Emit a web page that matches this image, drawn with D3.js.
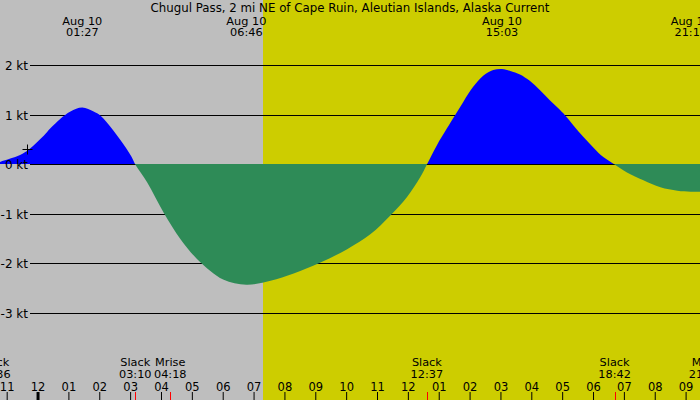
<!DOCTYPE html>
<html>
<head>
<meta charset="utf-8">
<script src="https://cdn.jsdelivr.net/npm/d3@7/dist/d3.min.js"></script>
<style>
body { margin: 0; }
svg { display: block; font-family: "DejaVu Sans", sans-serif; }
</style>
</head>
<body>
<script>
var width = 700;
var height = 400;

var title = "Chugul Pass, 2 mi NE of Cape Ruin, Aleutian Islands, Alaska Current";
var viewRange = ["2024-08-09T22:47", "2024-08-10T21:28"];
var dayRange = ["2024-08-10T07:18", "2024-08-10T21:28"];

// current speed (kt), + flood / - ebb
var curveTimes = [
    "2024-08-09T22:36", "2024-08-09T22:47", "2024-08-09T23:07", "2024-08-09T23:26", "2024-08-09T23:45",
    "2024-08-10T00:12", "2024-08-10T00:25", "2024-08-10T00:44", "2024-08-10T01:04", "2024-08-10T01:27",
    "2024-08-10T01:49", "2024-08-10T02:02", "2024-08-10T02:14", "2024-08-10T02:27", "2024-08-10T02:40",
    "2024-08-10T02:53", "2024-08-10T03:03", "2024-08-10T03:10",
    "2024-08-10T03:33", "2024-08-10T04:05", "2024-08-10T04:38", "2024-08-10T05:10", "2024-08-10T05:36",
    "2024-08-10T06:02", "2024-08-10T06:46", "2024-08-10T07:33", "2024-08-10T08:18", "2024-08-10T09:10",
    "2024-08-10T10:02", "2024-08-10T10:47", "2024-08-10T11:26", "2024-08-10T11:58", "2024-08-10T12:24",
    "2024-08-10T12:37", "2024-08-10T12:56", "2024-08-10T13:16", "2024-08-10T13:32", "2024-08-10T13:48",
    "2024-08-10T14:07", "2024-08-10T14:27", "2024-08-10T14:46", "2024-08-10T15:03", "2024-08-10T15:19",
    "2024-08-10T15:38", "2024-08-10T15:57", "2024-08-10T16:17", "2024-08-10T16:36", "2024-08-10T16:53",
    "2024-08-10T17:06", "2024-08-10T17:22", "2024-08-10T17:41", "2024-08-10T18:01", "2024-08-10T18:20",
    "2024-08-10T18:42", "2024-08-10T19:06", "2024-08-10T19:38", "2024-08-10T20:11", "2024-08-10T20:44",
    "2024-08-10T21:10", "2024-08-10T21:40"
];
var curveSpeeds = [
    0, 0.05, 0.12, 0.19, 0.32,
    0.58, 0.73, 0.92, 1.07, 1.15,
    1.07, 0.99, 0.86, 0.69, 0.51,
    0.32, 0.15, 0,
    -0.36, -0.97, -1.51, -1.91, -2.15,
    -2.33, -2.43, -2.35, -2.20, -1.98,
    -1.71, -1.41, -1.03, -0.66, -0.26,
    0, 0.38, 0.73, 1.0, 1.27,
    1.57, 1.80, 1.91, 1.93, 1.89,
    1.82, 1.69, 1.50, 1.30, 1.13,
    0.99, 0.79, 0.56, 0.34, 0.15,
    0, -0.16, -0.32, -0.46, -0.53,
    -0.55, -0.55
];

var peakTimes = ["2024-08-10T01:27", "2024-08-10T06:46", "2024-08-10T15:03", "2024-08-10T21:10"];
var eventNames = ["Slack", "Slack", "Mrise", "Slack", "Slack", "Mset"];
var eventTimes = ["2024-08-09T22:36", "2024-08-10T03:10", "2024-08-10T04:18",
                  "2024-08-10T12:37", "2024-08-10T18:42", "2024-08-10T21:38"];
var speedTicks = [2, 1, 0, -1, -2, -3];

var parse = d3.timeParse("%Y-%m-%dT%H:%M");
var fmtDay = d3.timeFormat("%b %d");
var fmtTime = d3.timeFormat("%H:%M");

var data = curveTimes.map(function (t, i) { return { t: parse(t), v: curveSpeeds[i] }; });

var xScale = d3.scaleTime()
    .domain(viewRange.map(parse))
    .range([0, width]);
var yScale = d3.scaleLinear()
    .domain([2, -3])
    .range([65.5, 313]);
var base = Math.floor(yScale(0));

var svg = d3.select("body").append("svg")
    .attr("width", width)
    .attr("height", height);

// night / day background
svg.append("rect")
    .attr("width", width).attr("height", height)
    .attr("fill", "#bebebe");
svg.append("rect")
    .attr("x", Math.round(xScale(parse(dayRange[0]))))
    .attr("width", Math.round(xScale(parse(dayRange[1])) - xScale(parse(dayRange[0]))) + 1)
    .attr("height", height)
    .attr("fill", "#cdcd00");

// grid
svg.append("g").selectAll("line")
    .data(speedTicks).enter().append("line")
    .attr("x1", 30).attr("x2", width)
    .attr("y1", (d) => Math.floor(yScale(d)) + 0.5)
    .attr("y2", (d) => Math.floor(yScale(d)) + 0.5)
    .attr("stroke", "black")
    .attr("stroke-width", 1);

// flood / ebb areas
var defs = svg.append("defs");
defs.append("clipPath").attr("id", "above")
    .append("rect").attr("width", width).attr("height", base);
defs.append("clipPath").attr("id", "below")
    .append("rect").attr("y", base).attr("width", width).attr("height", height - base);

var area = d3.area()
    .x((d) => xScale(d.t))
    .y0(base)
    .y1((d) => yScale(d.v))
    .curve(d3.curveCatmullRom.alpha(0.5));

svg.append("path")
    .attr("d", area(data))
    .attr("fill", "#0000ff")
    .attr("clip-path", "url(#above)");
svg.append("path")
    .attr("d", area(data))
    .attr("fill", "#2e8b57")
    .attr("clip-path", "url(#below)");

// marker
svg.append("path")
    .attr("d", "M22.5,149.5h10M27.5,144.5v10")
    .attr("stroke", "black")
    .attr("fill", "none");

// speed labels
svg.append("g").selectAll("text")
    .data(speedTicks).enter().append("text")
    .attr("x", 28)
    .attr("y", (d) => yScale(d) + 4.5)
    .attr("text-anchor", "end")
    .attr("font-size", 12)
    .text((d) => d + " kt");

// title
svg.append("text")
    .attr("x", width / 2).attr("y", 11.5)
    .attr("text-anchor", "middle")
    .attr("font-size", 11.8)
    .text(title);

// max / min labels
var peaks = svg.append("g").selectAll("g")
    .data(peakTimes.map(parse)).enter().append("g")
    .attr("transform", (d) => "translate(" + xScale(d) + ",0)")
    .attr("text-anchor", "middle")
    .attr("font-size", 11.3);
peaks.append("text").attr("y", 24.5).text((d) => fmtDay(d));
peaks.append("text").attr("y", 36).text((d) => fmtTime(d));

// slack / moon labels
var events = svg.append("g").selectAll("g")
    .data(eventTimes.map(parse)).enter().append("g")
    .attr("transform", (d) => "translate(" + xScale(d) + ",0)")
    .attr("text-anchor", "middle")
    .attr("font-size", 11.3);
events.append("text").attr("y", 366).text((d, i) => eventNames[i]);
events.append("text").attr("y", 377.5).text((d) => fmtTime(d));

// hour axis
var xAxisGen = d3.axisTop(xScale)
    .ticks(d3.timeHour.every(1))
    .tickFormat(d3.timeFormat("%I"))
    .tickSize(8)
    .tickPadding(1);
var xAxis = svg.append("g")
    .attr("transform", "translate(0," + height + ")")
    .call(xAxisGen);
xAxis.select(".domain").remove();
xAxis.selectAll("text")
    .attr("font-size", 11.5)
    .attr("font-family", "DejaVu Sans, sans-serif");
xAxis.selectAll(".tick line")
    .attr("stroke-width", (d) => d.getHours() === 0 ? 3 : 1);

// event ticks
svg.append("g").selectAll("line")
    .data(eventTimes.map(parse)).enter().append("line")
    .attr("x1", (d) => Math.round(xScale(d)) + 0.5)
    .attr("x2", (d) => Math.round(xScale(d)) + 0.5)
    .attr("y1", height - 8).attr("y2", height)
    .attr("stroke", "red");
</script>
</body>
</html>
